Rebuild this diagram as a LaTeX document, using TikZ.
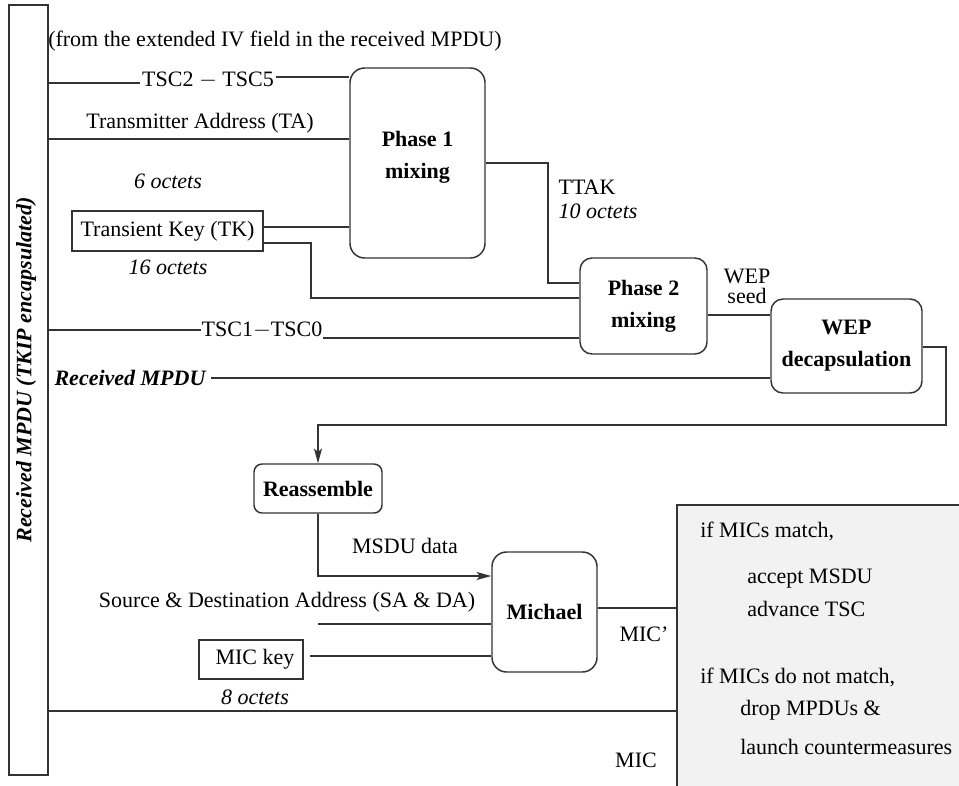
\documentclass[tikz,border=0pt]{standalone}
\usepackage{fontspec}
\setmainfont{Liberation Serif}
\usetikzlibrary{arrows.meta}
\newcommand\dfont{\fontsize{16.5}{24}\selectfont}
\tikzset{
  ln/.style={line width=1.1pt, draw=black!80},
  arr/.style={-{Stealth[length=11pt,width=6pt,inset=2.5pt]}},
  blk/.style={draw=black!80, line width=1.1pt, rounded corners=#1, align=center,
              font=\bfseries\dfont, inner sep=0pt},
  blk/.default=10pt,
  keybox/.style={draw=black!80, line width=1.1pt, font=\dfont, inner sep=0pt},
  lbl/.style={font=\dfont, inner sep=1pt},
  itl/.style={font=\itshape\dfont, inner sep=1pt},
  res/.style={font=\dfont, anchor=west, inner sep=0pt}
}
\begin{document}
\begin{tikzpicture}[x=0.75pt,y=-0.75pt]
\useasboundingbox (0,0) rectangle (959,785);

% result panel (runs off the right and bottom edges)
\node[fill=black!5, minimum width=216pt, minimum height=214pt, inner sep=0pt,
      anchor=north west] (panel) at (677,505) {};
\draw[ln] (panel.south west) -- (panel.north west) -- (panel.north east);

% received frame bar
\node[draw=black!80, line width=1.1pt, minimum width=29.25pt, minimum height=577.5pt,
      inner sep=0pt] (bar) at (28.5,390) {};
\node[rotate=90, font=\bfseries\itshape\dfont] (bartext) at (26,370)
  {Received MPDU (TKIP encapsulated)};

% processing blocks
\node[blk=11pt, minimum width=101.25pt, minimum height=142.5pt] (ph1) at (417.5,163)
  {Phase 1\\mixing\\[-12pt]\mbox{}};
\node[blk=9pt, minimum width=95.25pt, minimum height=72pt] (ph2) at (643.5,306)
  {Phase 2\\mixing};
\node[blk=9pt, minimum width=113.25pt, minimum height=70.5pt] (wep) at (846.5,346)
  {WEP\\decapsulation};
\node[blk=6pt, minimum width=96pt, minimum height=36.75pt] (reas) at (318,488.5)
  {Reassemble};
\node[blk=11pt, minimum width=78.75pt, minimum height=90pt] (mich) at (544.5,612)
  {Michael};

% key boxes
\node[keybox, minimum width=143.25pt, minimum height=30pt] (tk) at (167.5,231)
  {Transient Key (TK)};
\node[keybox, minimum width=78pt, minimum height=29.25pt] (mickey) at (251,659.5)
  {\hspace{6pt}MIC key};

% labels
\node[lbl, anchor=west, inner sep=0pt] (ivnote) at (48,41)
  {(from the extended IV field in the received MPDU)};
\node[lbl, inner xsep=1.5pt] (tsc25) at (208,80) {TSC2 $-$ TSC5};
\node[lbl] (ta) at (200,123) {Transmitter Address (TA)};
\node[itl] (oct6) at (168,181) {6 octets};
\node[itl] (oct16) at (168,267) {16 octets};
\node[lbl, inner xsep=0pt] (tsc10) at (262,330) {TSC1$-$TSC0};
\node[font=\bfseries\itshape\dfont, inner xsep=4pt] (rmpdu) at (130,378) {Received MPDU};
\node[lbl, anchor=west] (ttak) at (557,187) {TTAK};
\node[itl, anchor=west] (oct10) at (557,211) {10 octets};
\node[lbl, align=center, inner sep=0pt, font=\fontsize{16.5}{15}\selectfont] (seed) at (747,286) {WEP\\seed};
\node[lbl] (msdu) at (405,546) {MSDU data};
\node[lbl] (sada) at (287,602) {Source \& Destination Address (SA \& DA)};
\node[itl] (oct8) at (255,697) {8 octets};
\node[lbl] (micp) at (644,634) {MIC’};
\node[lbl] (mic) at (636,760) {MIC};

% decision text
\node[res] (r1) at (700,531) {if MICs match,};
\node[res] (r2) at (747,579) {accept MSDU};
\node[res] (r3) at (747,609) {advance TSC};
\node[res] (r4) at (700,677) {if MICs do not match,};
\node[res] (r5) at (740,710) {drop MPDUs \&};
\node[res] (r6) at (740,747) {launch countermeasures};

% free line ends
\coordinate (sa0) at (318,624);
\coordinate (mk0) at (310,656);

% connectors
\draw[ln] (bar.east |- 0,83) -- (tsc25.west |- 0,83);
\draw[ln] (tsc25.east |- 0,77) -- (ph1.west |- 0,77);
\draw[ln] (bar.east |- 0,139) -- (ph1.west |- 0,139);
\draw[ln] (tk.east |- 0,227) -- (ph1.west |- 0,227);
\draw[ln] (tk.east |- 0,243) -| (311,298) -- (ph2.west |- 0,298);
\draw[ln] (bar.east |- 0,330) -- (tsc10.west |- 0,330);
\draw[ln] (tsc10.east |- 0,338) -- (ph2.west |- 0,338);
\draw[ln] (rmpdu.east |- 0,378) -- (wep.west |- 0,378);
\draw[ln] (ph1.east |- 0,163) -| (548,283) -- (ph2.west |- 0,283);
\draw[ln] (ph2.east |- 0,315) -- (wep.west |- 0,315);
\draw[ln, arr] (wep.east |- 0,347) -| (946,425) -| (reas.north);
\draw[ln, arr] (reas.south) |- (mich.west |- 0,576);
\draw[ln] (sa0) -- (mich.west |- sa0);
\draw[ln] (mk0) -- (mich.west |- mk0);
\draw[ln] (mich.east |- 0,608) -- (panel.west |- 0,608);
\draw[ln] (bar.east |- 0,711) -- (panel.west |- 0,711);
\end{tikzpicture}
\end{document}
